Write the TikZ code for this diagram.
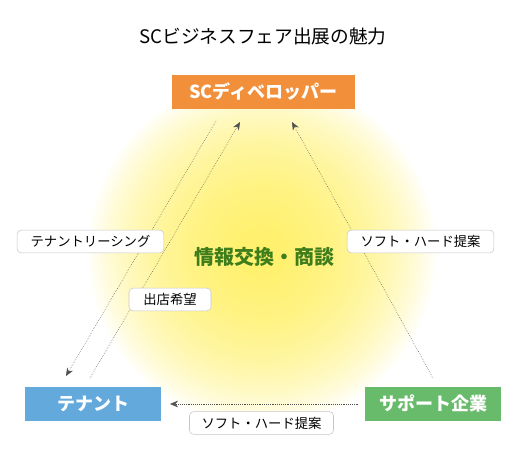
\documentclass[tikz,border=0pt]{standalone}
\usepackage{fontspec}
\setmainfont{Noto Sans CJK JP}
\usetikzlibrary{arrows.meta}
\definecolor{devorange}{HTML}{F18F3B}
\definecolor{tenantblue}{HTML}{63A9DC}
\definecolor{supportgreen}{HTML}{69BB6C}
\definecolor{talkgreen}{HTML}{3E7D1C}
\definecolor{glowyellow}{HTML}{FFEE55}
\definecolor{flowgray}{HTML}{505050}
\tikzset{
  party/.style={text=white, font=\fontsize{13.5}{16}\selectfont\bfseries, minimum height=25.5pt, inner sep=0pt},
  tag/.style={draw=gray!45, fill=white, rounded corners=3pt, font=\fontsize{10}{12}\selectfont, minimum height=17pt, inner sep=0pt},
  flow/.style={flowgray, densely dotted, -{Stealth[length=6pt,width=5pt]}}
}
\begin{document}
\begin{tikzpicture}[x=0.75pt,y=-0.75pt]
  \useasboundingbox (0,0) rectangle (528,460);
  % glow behind the triangle
  \foreach \r in {174,171,...,4}
    \fill[glowyellow, opacity=0.034] (262,252) circle (\r);
  \node (title) at (263,36) {\fontsize{14}{17}\selectfont SCビジネスフェア出展の魅力};
  \node[party, fill=devorange, minimum width=137pt] (dev) at (263.5,92) {SCディベロッパー};
  \node[party, fill=tenantblue, minimum width=102pt] (tenant) at (93,403.5) {テナント};
  \node[party, fill=supportgreen, minimum width=102pt] (support) at (433,403.5) {サポート企業};
  \node[text=talkgreen, font=\fontsize{15}{18}\selectfont\bfseries] (talk) at (264,257) {情報交換・商談};
  % end points of the connectors
  \coordinate (leasingS) at (216,121);
  \coordinate (leasingE) at (66,376);
  \coordinate (wishS) at (90,378);
  \coordinate (wishE) at (240,122);
  \coordinate (offerS) at (433,378);
  \coordinate (offerE) at (292,122);
  \coordinate (offerbS) at (358,404);
  \coordinate (offerbE) at (170,404);
  \draw[flow] (leasingS) -- (leasingE);
  \draw[flow] (wishS) -- (wishE);
  \draw[flow] (offerS) -- (offerE);
  \draw[flow] (offerbS) -- (offerbE);
  \node[tag, minimum width=110pt] (leasing) at (90.5,241.5) {テナントリーシング};
  \node[tag, minimum width=61.5pt] (wish) at (170,299.5) {出店希望};
  \node[tag, minimum width=110pt] (offer) at (420.5,241.5) {ソフト・ハード提案};
  \node[tag, minimum width=108pt] (offerb) at (261.5,423) {ソフト・ハード提案};
\end{tikzpicture}
\end{document}
